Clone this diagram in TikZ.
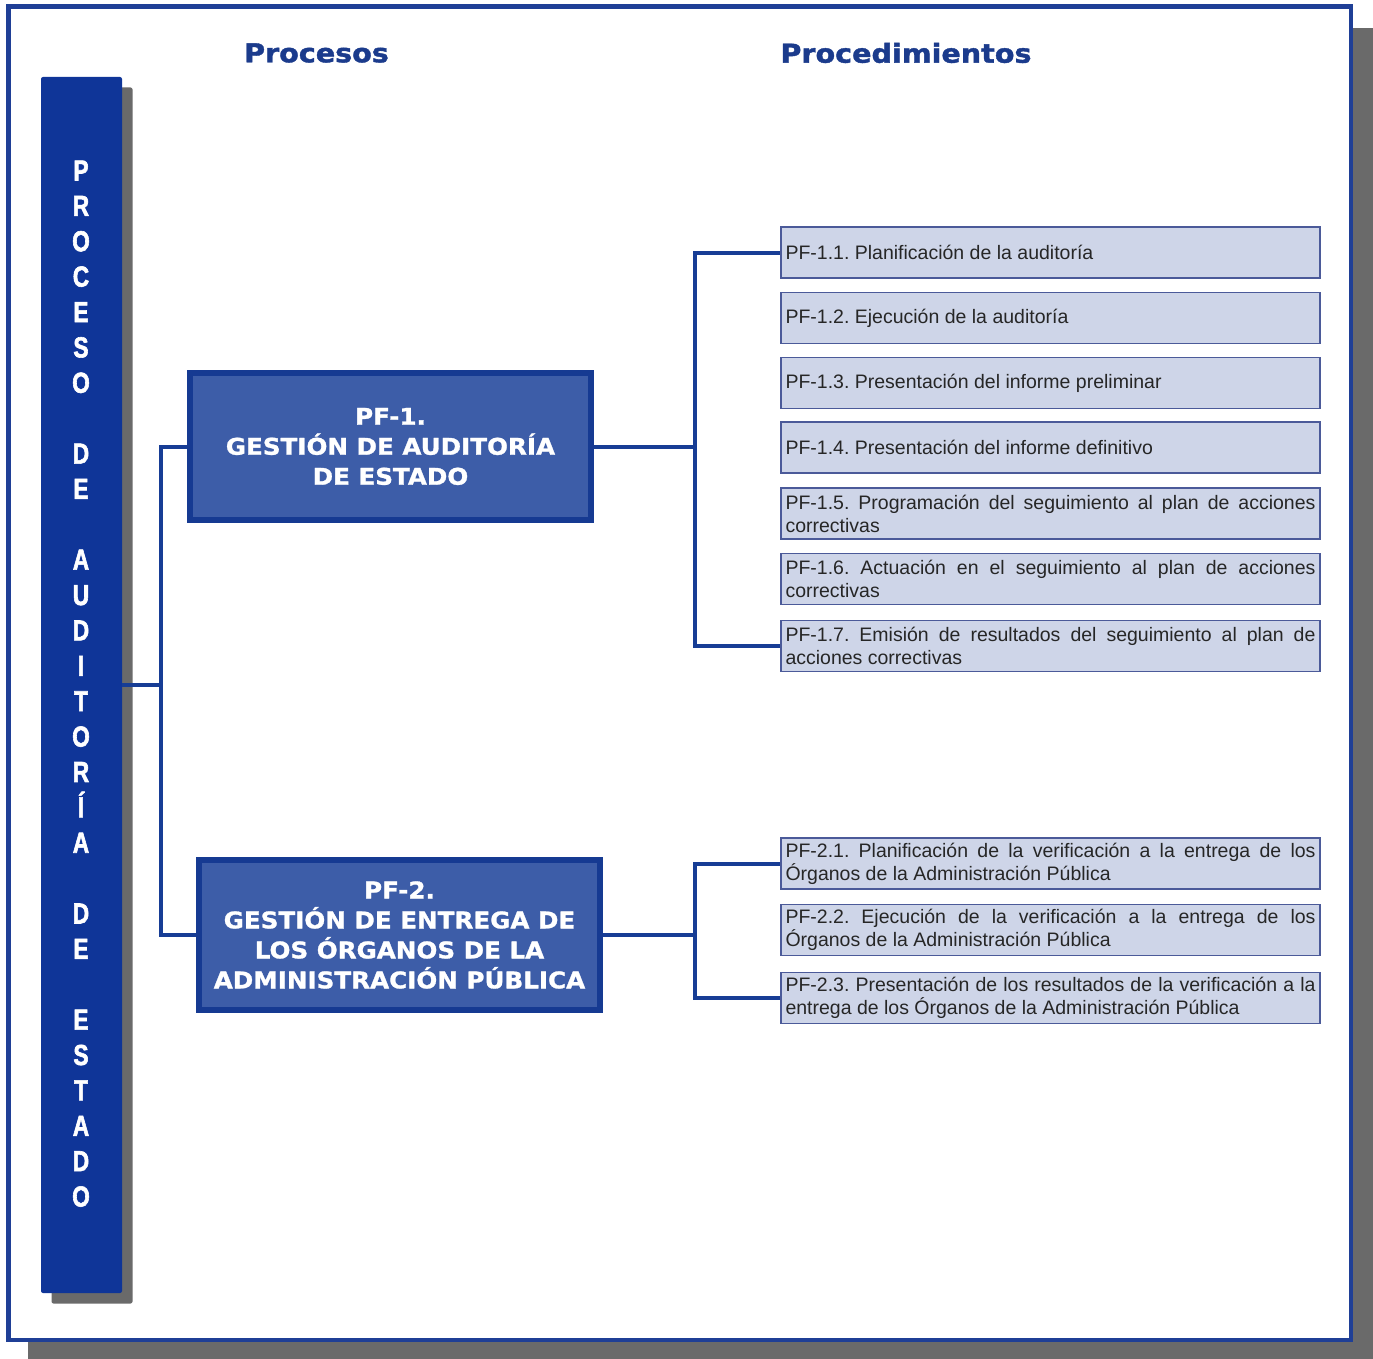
\documentclass[tikz,border=0pt]{standalone}
\usepackage{fontspec}
\setmainfont{Liberation Sans}
\newfontfamily\hdrfont{DejaVu Sans Bold}[FakeStretch=1.1, FakeBold=1.5]
\newfontfamily\boxfont{DejaVu Sans Bold}[FakeStretch=1.07, FakeBold=1.2]
\newfontfamily\barfont{Liberation Sans Bold}[FakeStretch=0.78, FakeBold=2]
\usetikzlibrary{shadows,calc}
\definecolor{frameblue}{HTML}{1F3F96}
\definecolor{barblue}{HTML}{0F3598}
\definecolor{pffill}{HTML}{3D5DA8}
\definecolor{pfborder}{HTML}{163A92}
\definecolor{procfill}{HTML}{CED5E8}
\definecolor{procborder}{HTML}{4B5A99}
\definecolor{connblue}{HTML}{173D95}
\definecolor{shadowgray}{HTML}{6A6A6A}
\definecolor{hdrblue}{HTML}{1B3B8C}
\hyphenpenalty=10000
\exhyphenpenalty=10000
\frenchspacing
\tikzset{
  hdr/.style={text=hdrblue, font=\hdrfont\fontsize{26}{30}\selectfont, inner sep=0pt},
  barbox/.style={rectangle, fill=barblue, rounded corners=2pt, minimum width=81pt, minimum height=1216pt, inner sep=0pt,
    drop shadow={shadow xshift=10.5pt, shadow yshift=-10.5pt, fill=shadowgray, opacity=1}},
  barletter/.style={text=white, font=\barfont\fontsize{29}{30}\selectfont, inner sep=0pt},
  pfbox/.style={rectangle, fill=pffill, draw=pfborder, line width=6pt, minimum width=401pt, align=center,
    text=white, font=\boxfont\fontsize{23}{30}\selectfont, inner sep=0pt},
  procbox/.style={rectangle, fill=procfill, draw=procborder, line width=1.6pt, text width=530pt,
    inner xsep=4.5pt, inner ysep=0pt, minimum height=51pt, align=justify, text=black!85,
    font=\frenchspacing\fontsize{19.5}{23}\selectfont},
  conn/.style={draw=connblue, line width=4pt}
}
\begin{document}
\begin{tikzpicture}[x=1pt,y=-1pt]
\useasboundingbox (0,0) rectangle (1373,1359);
% frame with shadow
\fill[shadowgray] (28,28) rectangle (1373,1359);
\draw[frameblue, line width=4.5pt, fill=white] (8.5,6.5) rectangle (1351,1340);
% headers
\node[hdr] (hproc) at (316.5,53) {Procesos};
\node[hdr] (hprocd) at (906,53) {Procedimientos};
% vertical bar
\node[barbox] (bar) at (81.5,685) {};
\foreach \ch [count=\i] in {P,R,O,C,E,S,O,{},D,E,{},A,U,D,I,T,O,R,Í,A,{},D,E,{},E,S,T,A,D,O}
  \node[barletter, anchor=base] (L\i) at (81, {170+(\i-1)*35.38+10.5}) {\ch};
% process boxes
\node[pfbox, minimum height=147pt] (pf1) at (390.5,446.5) {PF-1.\\GESTIÓN DE AUDITORÍA\\DE ESTADO};
\node[pfbox, minimum height=150pt] (pf2) at (399.5,935) {PF-2.\\GESTIÓN DE ENTREGA DE\\LOS ÓRGANOS DE LA\\ADMINISTRACIÓN PÚBLICA};
% procedure boxes
\node[procbox] (p11) at (1050.5,252.5) {PF-1.1. Planificación de la auditoría};
\node[procbox] (p12) at (1050.5,318) {PF-1.2. Ejecución de la auditoría};
\node[procbox] (p13) at (1050.5,383) {PF-1.3. Presentación del informe preliminar};
\node[procbox] (p14) at (1050.5,447.5) {PF-1.4. Presentación del informe definitivo};
\node[procbox] (p15) at (1050.5,513.5) {PF-1.5. Programación del seguimiento al plan de acciones\linebreak correctivas};
\node[procbox] (p16) at (1050.5,579) {PF-1.6. Actuación en el seguimiento al plan de acciones\linebreak correctivas};
\node[procbox] (p17) at (1050.5,646) {PF-1.7. Emisión de resultados del seguimiento al plan de\linebreak acciones correctivas};
\node[procbox] (p21) at (1050.5,863.5) {PF-2.1. Planificación de la verificación a la entrega de los\linebreak Órganos de la Administración Pública};
\node[procbox] (p22) at (1050.5,930) {PF-2.2. Ejecución de la verificación a la entrega de los\linebreak Órganos de la Administración Pública};
\node[procbox] (p23) at (1050.5,998) {PF-2.3. Presentación de los resultados de la verificación a la\linebreak entrega de los Órganos de la Administración Pública};
% connectors
\coordinate (j1) at (161,685);
\coordinate (j2) at (695,446.5);
\coordinate (j3) at (695,935);
\draw[conn] (bar.east) -- (j1);
\draw[conn] (pf1.west) -| (j1);
\draw[conn] (pf2.west) -| (j1);
\draw[conn] (pf1.east) -- (j2);
\draw[conn] (p11.west) -| (j2);
\draw[conn] (p17.west) -| (j2);
\draw[conn] (pf2.east) -- (j3);
\draw[conn] (p21.west) -| (j3);
\draw[conn] (p23.west) -| (j3);
\end{tikzpicture}
\end{document}
